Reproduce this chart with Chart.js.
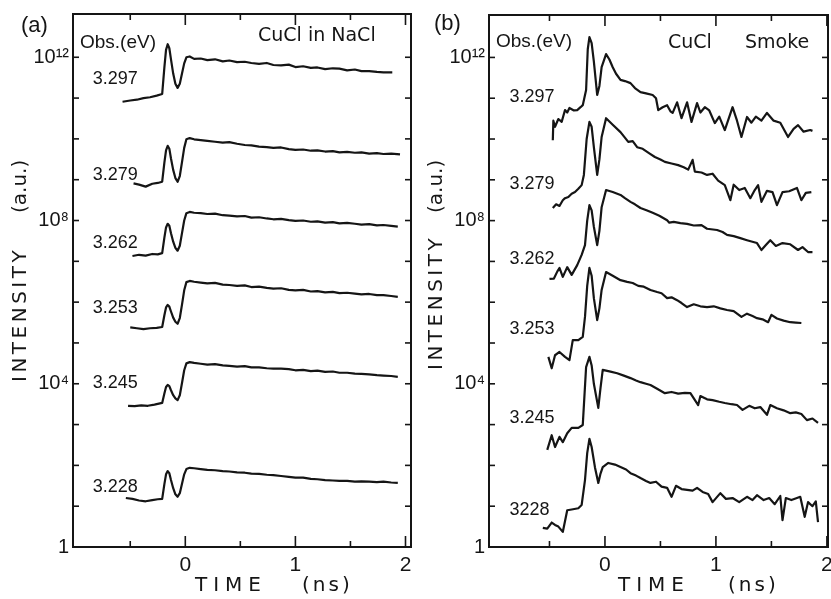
<!DOCTYPE html>
<html>
<head>
<meta charset="utf-8">
<script src="https://cdn.jsdelivr.net/npm/chart.js@4.4.1/dist/chart.umd.min.js"></script>
<style>
  html, body { margin: 0; padding: 0; background: #fff; }
  #wrap { position: relative; width: 831px; height: 599px; overflow: hidden; }
  canvas { position: absolute; top: 0; }
  #panelA { left: 0; }
  #panelB { left: 415px; }
</style>
</head>
<body>
<div id="wrap">
  <canvas id="panelA" width="415" height="599"></canvas>
  <canvas id="panelB" width="416" height="599"></canvas>
</div>
<script>
// time in ns, intensity kept as log10 of the a.u. value (axis is logarithmic)

// ---- (a) CuCl in NaCl ----
const a3297Time = [-0.57,-0.50,-0.44,-0.38,-0.32,-0.26,-0.21,-0.19,-0.175,-0.16,
  -0.145,-0.13,-0.11,-0.09,-0.07,-0.05,-0.03,-0.01,0.01,0.04,
  0.08,0.14,0.20,0.27,0.34,0.40,0.47,0.54,0.60,0.67,
  0.74,0.80,0.87,0.94,1.00,1.07,1.14,1.20,1.27,1.34,
  1.40,1.47,1.54,1.60,1.67,1.74,1.80,1.88];
const a3297Log = [10.91,10.94,10.96,11.00,11.02,11.06,11.10,11.75,12.18,12.32,
  12.22,11.95,11.60,11.35,11.25,11.35,11.60,11.85,12.00,12.02,
  11.96,11.97,11.93,11.95,11.90,11.92,11.88,11.89,11.86,11.84,
  11.86,11.81,11.80,11.82,11.76,11.78,11.74,11.75,11.71,11.73,
  11.72,11.68,11.70,11.66,11.66,11.64,11.63,11.63];

const a3279Time = [-0.47,-0.42,-0.36,-0.30,-0.25,
  -0.21,-0.19,-0.175,-0.16,-0.145,-0.13,-0.11,-0.09,-0.07,-0.05,
  -0.03,-0.01,0.01,0.04,
  0.08,0.14,0.20,0.27,0.34,0.40,0.47,0.54,0.60,0.67,
  0.74,0.80,0.87,0.94,1.00,1.07,1.14,1.20,1.27,1.34,
  1.40,1.47,1.54,1.60,1.67,1.74,1.80,1.87,1.95];
const a3279Log = [8.91,8.88,8.83,8.90,8.92,
  8.95,9.42,9.72,9.83,9.76,9.52,9.24,9.04,8.95,9.09,
  9.43,9.78,9.99,10.02,
  9.99,9.97,9.95,9.93,9.91,9.92,9.88,9.85,9.84,9.81,
  9.80,9.78,9.79,9.75,9.73,9.74,9.71,9.72,9.69,9.70,
  9.67,9.68,9.66,9.67,9.64,9.65,9.63,9.64,9.62];

const a3262Time = [-0.48,-0.42,-0.36,-0.30,-0.25,
  -0.21,-0.19,-0.175,-0.16,-0.145,-0.13,-0.11,-0.09,-0.07,-0.05,
  -0.03,-0.01,0.01,0.04,
  0.08,0.14,0.20,0.27,0.34,0.40,0.47,0.54,0.60,0.67,
  0.74,0.80,0.87,0.94,1.00,1.07,1.14,1.20,1.27,1.34,
  1.40,1.47,1.54,1.60,1.67,1.74,1.80,1.87,1.93];
const a3262Log = [7.13,7.16,7.14,7.18,7.17,
  7.20,7.58,7.83,7.92,7.87,7.69,7.48,7.33,7.26,7.38,
  7.69,8.00,8.18,8.21,
  8.19,8.18,8.16,8.17,8.13,8.12,8.10,8.11,8.07,8.08,
  8.05,8.03,8.04,8.01,7.99,8.00,7.97,7.98,7.95,7.96,
  7.93,7.94,7.92,7.90,7.91,7.88,7.89,7.87,7.85];

const a3253Time = [-0.50,-0.44,-0.38,-0.32,-0.26,
  -0.21,-0.19,-0.175,-0.16,-0.145,-0.13,-0.11,-0.09,-0.07,-0.05,
  -0.03,-0.01,0.01,0.04,
  0.08,0.14,0.20,0.27,0.34,0.40,0.47,0.54,0.60,0.67,
  0.74,0.80,0.87,0.94,1.00,1.07,1.14,1.20,1.27,1.34,
  1.40,1.47,1.54,1.60,1.67,1.74,1.80,1.87,1.93];
const a3253Log = [5.38,5.36,5.34,5.36,5.37,
  5.39,5.68,5.87,5.93,5.89,5.77,5.62,5.52,5.47,5.61,
  5.94,6.29,6.49,6.52,
  6.50,6.48,6.46,6.47,6.43,6.42,6.40,6.41,6.37,6.38,
  6.35,6.33,6.34,6.30,6.29,6.30,6.26,6.27,6.24,6.25,
  6.22,6.23,6.21,6.19,6.20,6.17,6.17,6.15,6.13];

const a3245Time = [-0.52,-0.46,-0.40,-0.34,-0.28,
  -0.21,-0.19,-0.175,-0.16,-0.145,-0.13,-0.11,-0.09,-0.07,-0.05,
  -0.03,-0.01,0.01,0.04,
  0.08,0.14,0.20,0.27,0.34,0.40,0.47,0.54,0.60,0.67,
  0.74,0.80,0.87,0.94,1.00,1.07,1.14,1.20,1.27,1.34,
  1.40,1.47,1.54,1.60,1.67,1.74,1.80,1.87,1.93];
const a3245Log = [3.46,3.45,3.47,3.46,3.49,
  3.53,3.76,3.92,3.97,3.94,3.84,3.72,3.64,3.60,3.72,
  4.02,4.33,4.50,4.53,
  4.51,4.49,4.47,4.48,4.45,4.44,4.42,4.43,4.40,4.40,
  4.38,4.37,4.37,4.36,4.33,4.34,4.31,4.32,4.29,4.30,
  4.27,4.27,4.25,4.24,4.23,4.21,4.20,4.19,4.17];

const a3228Time = [-0.54,-0.48,-0.42,-0.36,-0.30,-0.25,
  -0.21,-0.19,-0.175,-0.16,-0.145,-0.13,-0.11,-0.09,-0.07,-0.05,
  -0.03,-0.01,0.01,0.04,
  0.08,0.14,0.20,0.27,0.34,0.40,0.47,0.54,0.60,0.67,
  0.74,0.80,0.87,0.94,1.00,1.07,1.14,1.20,1.27,1.34,
  1.40,1.47,1.54,1.60,1.67,1.74,1.80,1.87,1.93];
const a3228Log = [1.20,1.18,1.14,1.12,1.15,1.17,
  1.18,1.54,1.78,1.86,1.81,1.64,1.44,1.29,1.23,1.32,
  1.55,1.78,1.91,1.94,
  1.93,1.91,1.89,1.88,1.86,1.85,1.83,1.82,1.80,1.79,
  1.77,1.76,1.74,1.72,1.70,1.70,1.67,1.66,1.64,1.63,
  1.62,1.62,1.60,1.61,1.60,1.59,1.60,1.58,1.57];

// ---- (b) CuCl smoke ----
const b3297Time = [-0.47,-0.465,-0.45,-0.42,-0.39,-0.36,-0.34,-0.32,-0.28,-0.25,
  -0.22,-0.20,-0.17,-0.155,-0.14,-0.12,-0.10,-0.07,-0.05,-0.03,
  0.01,0.04,0.07,0.10,0.14,0.18,0.23,0.27,0.32,0.37,
  0.43,0.46,0.48,0.52,0.56,0.59,0.61,0.65,0.69,0.74,
  0.78,0.83,0.86,0.90,0.94,0.99,1.03,1.08,1.15,1.19,
  1.23,1.28,1.32,1.36,1.41,1.46,1.52,1.58,1.65,1.70,
  1.74,1.79,1.85,1.87];
const b3297Log = [9.97,10.45,10.30,10.49,10.42,10.71,10.65,10.76,10.70,10.71,
  10.78,10.83,11.20,12.20,12.50,12.35,11.90,11.08,11.30,11.76,
  12.08,11.95,11.76,11.60,11.45,11.42,11.37,11.25,11.15,11.12,
  11.08,11.00,10.71,10.78,10.83,10.68,10.64,10.90,10.51,10.90,
  10.42,10.88,10.65,10.78,10.70,10.39,10.55,10.22,10.78,10.45,
  10.05,10.54,10.40,10.55,10.45,10.64,10.45,10.40,10.05,10.25,
  10.34,10.18,10.22,10.20];

const b3279Time = [-0.47,-0.44,-0.41,-0.38,-0.36,-0.33,-0.30,-0.27,-0.24,-0.21,
  -0.19,-0.165,-0.14,-0.12,-0.10,-0.07,-0.05,-0.03,0.01,0.07,
  0.14,0.21,0.25,0.29,0.34,0.40,0.45,0.50,0.54,0.60,
  0.66,0.71,0.75,0.79,0.81,0.87,0.92,0.97,1.02,1.08,
  1.13,1.16,1.21,1.26,1.31,1.35,1.38,1.41,1.46,1.51,
  1.55,1.60,1.66,1.73,1.77,1.81,1.86];
const b3279Log = [8.31,8.40,8.36,8.50,8.55,8.58,8.66,8.70,8.78,8.87,
  9.12,10.00,10.42,10.30,9.80,9.12,9.50,10.05,10.51,10.35,
  10.17,9.93,9.95,9.80,9.76,9.65,9.56,9.50,9.44,9.40,
  9.36,9.31,9.25,9.49,9.20,9.18,9.12,9.15,8.98,8.87,
  8.50,8.88,8.75,8.80,8.55,8.75,8.87,8.46,8.73,8.70,
  8.38,8.70,8.72,8.80,8.50,8.68,8.70];

const b3262Time = [-0.50,-0.46,-0.43,-0.41,-0.38,-0.34,-0.30,-0.25,-0.21,-0.18,
  -0.16,-0.14,-0.12,-0.10,-0.07,-0.05,-0.03,0.01,0.07,0.14,
  0.18,0.23,0.27,0.32,0.38,0.43,0.49,0.56,0.58,0.62,
  0.68,0.74,0.80,0.87,0.92,1.01,1.06,1.10,1.16,1.22,
  1.28,1.37,1.41,1.45,1.49,1.54,1.60,1.67,1.74,1.78,
  1.83,1.87];
const b3262Log = [6.57,6.58,6.75,6.84,6.62,6.86,6.67,6.91,7.16,7.40,
  8.00,8.38,8.25,7.85,7.40,7.75,8.33,8.75,8.70,8.63,
  8.55,8.46,8.40,8.31,8.25,8.19,8.12,8.01,7.95,7.97,
  7.94,7.92,7.88,7.89,7.80,7.77,7.72,7.65,7.62,7.57,
  7.52,7.45,7.28,7.40,7.52,7.38,7.45,7.42,7.28,7.35,
  7.23,7.23];

const b3253Time = [-0.51,-0.48,-0.45,-0.41,-0.36,-0.32,-0.29,-0.24,-0.20,-0.18,
  -0.16,-0.14,-0.12,-0.10,-0.07,-0.05,-0.03,0.01,0.07,0.14,
  0.20,0.25,0.30,0.35,0.41,0.47,0.51,0.56,0.60,0.65,
  0.69,0.74,0.80,0.86,0.92,0.98,1.04,1.10,1.16,1.23,
  1.28,1.33,1.37,1.42,1.47,1.50,1.55,1.61,1.67,1.72,
  1.77];
const b3253Log = [4.66,4.38,4.70,4.78,4.66,4.58,5.07,5.07,5.15,5.64,
  6.40,6.84,6.65,6.10,5.56,5.85,6.30,6.74,6.65,6.54,
  6.50,6.47,6.40,6.38,6.30,6.25,6.22,6.10,6.12,6.05,
  5.98,5.88,5.95,5.90,5.88,5.90,5.85,5.81,5.78,5.64,
  5.72,5.66,5.61,5.58,5.51,5.69,5.60,5.55,5.51,5.50,
  5.49];

const b3245Time = [-0.52,-0.48,-0.45,-0.41,-0.38,-0.34,-0.30,-0.24,-0.20,-0.17,
  -0.14,-0.12,-0.10,-0.06,-0.04,-0.02,0.05,0.11,0.17,0.23,
  0.28,0.32,0.37,0.41,0.47,0.54,0.60,0.66,0.72,0.77,
  0.84,0.86,0.92,0.97,1.03,1.08,1.14,1.19,1.24,1.30,
  1.35,1.40,1.46,1.49,1.55,1.61,1.67,1.72,1.77,1.82,
  1.87,1.92];
const b3245Log = [2.38,2.74,2.45,2.70,2.57,2.79,2.92,2.92,2.99,4.41,
  4.66,4.45,4.00,3.41,3.90,4.34,4.30,4.26,4.20,4.14,
  4.08,4.04,4.00,3.97,3.88,3.77,3.80,3.76,3.78,3.77,
  3.48,3.70,3.62,3.60,3.56,3.53,3.50,3.48,3.36,3.46,
  3.40,3.43,3.24,3.48,3.40,3.35,3.28,3.30,3.26,3.11,
  3.15,3.04];

const b3228Time = [-0.56,-0.52,-0.48,-0.45,-0.42,-0.38,-0.34,-0.30,-0.24,-0.21,
  -0.18,-0.16,-0.14,-0.12,-0.09,-0.06,-0.04,-0.02,0.03,0.09,
  0.14,0.19,0.23,0.28,0.32,0.37,0.41,0.46,0.51,0.56,
  0.60,0.64,0.69,0.74,0.79,0.83,0.88,0.93,0.97,1.04,
  1.09,1.15,1.21,1.28,1.33,1.37,1.43,1.48,1.53,1.58,
  1.60,1.63,1.68,1.73,1.76,1.80,1.83,1.87,1.90,1.92];
const b3228Log = [0.47,0.45,0.60,0.54,0.50,0.37,0.90,0.92,0.95,1.03,
  1.64,2.30,2.65,2.45,1.95,1.57,1.80,1.96,2.06,2.02,
  1.96,1.90,1.81,1.75,1.69,1.62,1.57,1.60,1.48,1.45,
  1.23,1.50,1.42,1.40,1.38,1.45,1.35,1.30,1.10,1.32,
  1.18,1.20,1.10,1.23,1.15,1.27,1.15,1.20,1.05,1.25,
  0.66,1.20,1.15,1.20,1.23,0.74,1.10,1.00,1.12,0.61];

// labels
const obsLabelsA = ['3.297', '3.279', '3.262', '3.253', '3.245', '3.228'];
const obsLabelsB = ['3.297', '3.279', '3.262', '3.253', '3.245', '3228'];
const xTickNumbers = [0, 1, 2];
const yDecades = [0,1,2,3,4,5,6,7,8,9,10,11,12];
const yTickExps = [0, 4, 8, 12];
const yTickLabels = ['1', '10⁴', '10⁸', '10¹²'];

const INK = '#151515';
const SANS = '"Liberation Sans", Arial, sans-serif';
const WIDE = '"DejaVu Sans", sans-serif';

function toPoints(times, logs) {
  return times.map((t, i) => ({ x: t, y: Math.pow(10, logs[i]) }));
}

function line(ctx, x1, y1, x2, y2) {
  ctx.beginPath();
  ctx.moveTo(x1, y1);
  ctx.lineTo(x2, y2);
  ctx.stroke();
}

// frame with inward tick marks on all four sides
const frameTicks = {
  id: 'frameTicks',
  afterDraw(chart) {
    const { ctx, chartArea: ca, scales } = chart;
    ctx.save();
    ctx.strokeStyle = INK;
    ctx.lineWidth = 2;
    ctx.strokeRect(ca.left, ca.top, ca.right - ca.left, ca.bottom - ca.top);
    ctx.lineWidth = 1.6;
    scales.x.ticks.forEach(tk => {
      if (tk.value < scales.x.min + 0.1) return;
      const px = scales.x.getPixelForValue(tk.value);
      const len = Number.isInteger(tk.value) ? 11 : 6;
      line(ctx, px, ca.bottom, px, ca.bottom - len);
      line(ctx, px, ca.top, px, ca.top + len);
    });
    scales.y.ticks.forEach(tk => {
      const e = Math.round(Math.log10(tk.value));
      if (e === 0) return;
      const py = scales.y.getPixelForValue(tk.value);
      line(ctx, ca.left, py, ca.left + 6, py);
      line(ctx, ca.right, py, ca.right - 6, py);
    });
    ctx.restore();
  }
};

function textPlugin(p) {
  return {
    id: 'panelText',
    afterDraw(chart) {
      const { ctx, scales } = chart;
      ctx.save();
      ctx.fillStyle = INK;
      ctx.textBaseline = 'middle';
      ctx.textAlign = 'left';

      ctx.font = '22px ' + SANS;
      ctx.fillText(p.letter, p.letterX, p.letterY);

      ctx.font = '19px ' + SANS;
      ctx.fillText('Obs.(eV)', p.obsX, p.obsY);

      ctx.font = '19px ' + WIDE;
      p.headers.forEach(h => ctx.fillText(h.text, h.x, h.y));

      // energy of each trace
      ctx.font = '18px ' + SANS;
      p.labels.forEach((txt, i) => {
        ctx.fillText(txt, scales.x.getPixelForValue(p.labelTime),
          scales.y.getPixelForValue(Math.pow(10, p.labelLog[i])));
      });

      // axis titles
      ctx.font = '20px ' + WIDE;
      ctx.letterSpacing = '6px';
      ctx.fillText('TIME', p.timeX, 586);
      ctx.letterSpacing = '3px';
      ctx.fillText('(ns)', p.nsX, 586);

      ctx.translate(p.yTitleX, 0);
      ctx.rotate(-Math.PI / 2);
      ctx.letterSpacing = '3.5px';
      ctx.fillText('INTENSITY', -p.intensityY, 0);
      ctx.letterSpacing = '0px';
      ctx.fillText('(a.u.)', -p.auY, 0);
      ctx.restore();
    }
  };
}

function buildPanel(id, traces, p) {
  const ctx = document.getElementById(id).getContext('2d');
  return new Chart(ctx, {
    type: 'line',
    data: {
      datasets: traces.map(tr => ({
        data: toPoints(tr[0], tr[1]),
        borderColor: INK,
        borderWidth: 2.2,
        pointRadius: 0,
        tension: 0,
        fill: false,
        borderJoinStyle: 'round'
      }))
    },
    options: {
      responsive: false,
      animation: false,
      events: [],
      layout: { padding: { top: p.padTop, right: p.padRight, left: 0, bottom: 0 } },
      plugins: { legend: { display: false }, tooltip: { enabled: false } },
      scales: {
        x: {
          type: 'linear',
          min: p.xMin,
          max: p.xMax,
          grid: { display: false, drawTicks: false },
          border: { display: false },
          ticks: {
            stepSize: 0.5,
            includeBounds: false,
            autoSkip: false,
            maxRotation: 0,
            padding: 6,
            color: INK,
            font: { family: SANS, size: 21 },
            callback: v => xTickNumbers.includes(v) ? String(v) : ''
          },
          afterFit: s => { s.height = 52; s.paddingLeft = 0; s.paddingRight = 0; }
        },
        y: {
          type: 'logarithmic',
          min: 1,
          max: Math.pow(10, p.yMaxLog),
          grid: { display: false, drawTicks: false },
          border: { display: false },
          afterBuildTicks: s => { s.ticks = yDecades.map(e => ({ value: Math.pow(10, e) })); },
          ticks: {
            autoSkip: false,
            padding: 4,
            color: INK,
            font: { family: SANS, size: 20 },
            callback: v => {
              const k = yTickExps.indexOf(Math.round(Math.log10(v)));
              return k >= 0 ? yTickLabels[k] : '';
            }
          },
          afterFit: s => { s.width = p.axisWidth; s.paddingTop = 0; s.paddingBottom = 0; }
        }
      }
    },
    plugins: [frameTicks, textPlugin(p)]
  });
}

buildPanel('panelA', [
  [a3297Time, a3297Log], [a3279Time, a3279Log], [a3262Time, a3262Log],
  [a3253Time, a3253Log], [a3245Time, a3245Log], [a3228Time, a3228Log]
], {
  xMin: -1.02, xMax: 2.05, yMaxLog: 13.06,
  axisWidth: 73, padTop: 14, padRight: 4,
  letter: '(a)', letterX: 21, letterY: 26,
  obsX: 80, obsY: 43,
  headers: [{ text: 'CuCl in NaCl', x: 258, y: 36 }],
  labels: obsLabelsA, labelTime: -0.84,
  labelLog: [11.47, 9.12, 7.45, 5.86, 4.02, 1.47],
  timeX: 195, nsX: 302,
  yTitleX: 21, intensityY: 382, auY: 213
});

buildPanel('panelB', [
  [b3297Time, b3297Log], [b3279Time, b3279Log], [b3262Time, b3262Log],
  [b3253Time, b3253Log], [b3245Time, b3245Log], [b3228Time, b3228Log]
], {
  xMin: -1.045, xMax: 2.01, yMaxLog: 13.04,
  axisWidth: 74, padTop: 15, padRight: 3,
  letter: '(b)', letterX: 19, letterY: 24,
  obsX: 81, obsY: 42,
  headers: [{ text: 'CuCl', x: 253, y: 43 }, { text: 'Smoke', x: 330, y: 43 }],
  labels: obsLabelsB, labelTime: -0.86,
  labelLog: [11.03, 8.90, 7.06, 5.34, 3.16, 0.91],
  timeX: 203, nsX: 313,
  yTitleX: 22, intensityY: 370, auY: 213
});
</script>
</body>
</html>
